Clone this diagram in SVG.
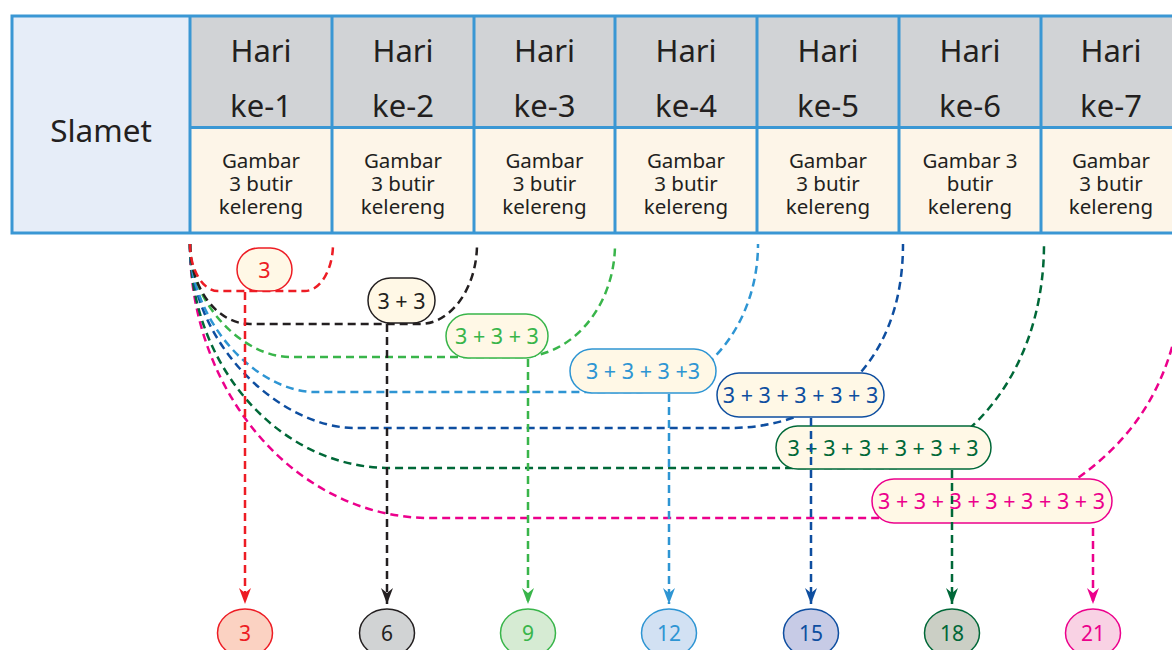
<svg xmlns="http://www.w3.org/2000/svg" width="1172" height="650" viewBox="0 0 1172 650">
<defs>
<style>
.t{font-family:"Noto Sans","Open Sans","Liberation Sans",sans-serif;fill:#231f20;text-anchor:middle}
.big{font-size:31px}
.sm{font-size:20.5px}
.pt{font-family:"Noto Sans","Open Sans","Liberation Sans",sans-serif;font-size:21.5px;text-anchor:middle}
.cl{fill:none;stroke:#3a97d4;stroke-width:3}
.d{fill:none;stroke-width:2.5;stroke-dasharray:8 5}
.pill{fill:#fff8e6;stroke-width:1.5}
.c{stroke-width:1.5}
</style>
<marker id="mr" markerUnits="userSpaceOnUse" markerWidth="17" markerHeight="14" viewBox="0 -7 17 14" refX="16" refY="0" orient="auto"><path d="M0,-6 L16,0 L0,6 L5,0 Z" fill="#ed1c24"/></marker>
<marker id="mk" markerUnits="userSpaceOnUse" markerWidth="17" markerHeight="14" viewBox="0 -7 17 14" refX="16" refY="0" orient="auto"><path d="M0,-6 L16,0 L0,6 L5,0 Z" fill="#231f20"/></marker>
<marker id="mg" markerUnits="userSpaceOnUse" markerWidth="17" markerHeight="14" viewBox="0 -7 17 14" refX="16" refY="0" orient="auto"><path d="M0,-6 L16,0 L0,6 L5,0 Z" fill="#39b54a"/></marker>
<marker id="mlb" markerUnits="userSpaceOnUse" markerWidth="17" markerHeight="14" viewBox="0 -7 17 14" refX="16" refY="0" orient="auto"><path d="M0,-6 L16,0 L0,6 L5,0 Z" fill="#2e95d3"/></marker>
<marker id="mdb" markerUnits="userSpaceOnUse" markerWidth="17" markerHeight="14" viewBox="0 -7 17 14" refX="16" refY="0" orient="auto"><path d="M0,-6 L16,0 L0,6 L5,0 Z" fill="#0e4ea0"/></marker>
<marker id="mdg" markerUnits="userSpaceOnUse" markerWidth="17" markerHeight="14" viewBox="0 -7 17 14" refX="16" refY="0" orient="auto"><path d="M0,-6 L16,0 L0,6 L5,0 Z" fill="#006838"/></marker>
<marker id="mm" markerUnits="userSpaceOnUse" markerWidth="17" markerHeight="14" viewBox="0 -7 17 14" refX="16" refY="0" orient="auto"><path d="M0,-6 L16,0 L0,6 L5,0 Z" fill="#ec008c"/></marker>
</defs>
<rect width="1172" height="650" fill="#ffffff"/>

<g id="table">
<rect x="12" y="16" width="178" height="217" fill="#e6edf8"/>
<rect x="190" y="16" width="1000" height="111.5" fill="#d1d3d6"/>
<rect x="190" y="127.5" width="1000" height="105.5" fill="#fdf5e8"/>
<rect class="cl" x="12" y="16" width="1180" height="217"/>
<path class="cl" d="M190 16V233 M332 16V233 M474 16V233 M615 16V233 M757 16V233 M899 16V233 M1041 16V233 M190 127.5H1192"/>
<text class="t big" x="101" y="142" style="font-size:31.5px">Slamet</text>
</g>

<g id="day1"><text class="t big" x="261" y="62">Hari</text><text class="t big" x="261" y="117">ke-1</text>
<text class="t sm" x="261" y="168">Gambar</text><text class="t sm" x="261" y="191">3 butir</text><text class="t sm" x="261" y="214">kelereng</text></g>
<g id="day2"><text class="t big" x="403" y="62">Hari</text><text class="t big" x="403" y="117">ke-2</text>
<text class="t sm" x="403" y="168">Gambar</text><text class="t sm" x="403" y="191">3 butir</text><text class="t sm" x="403" y="214">kelereng</text></g>
<g id="day3"><text class="t big" x="544.5" y="62">Hari</text><text class="t big" x="544.5" y="117">ke-3</text>
<text class="t sm" x="544.5" y="168">Gambar</text><text class="t sm" x="544.5" y="191">3 butir</text><text class="t sm" x="544.5" y="214">kelereng</text></g>
<g id="day4"><text class="t big" x="686" y="62">Hari</text><text class="t big" x="686" y="117">ke-4</text>
<text class="t sm" x="686" y="168">Gambar</text><text class="t sm" x="686" y="191">3 butir</text><text class="t sm" x="686" y="214">kelereng</text></g>
<g id="day5"><text class="t big" x="828" y="62">Hari</text><text class="t big" x="828" y="117">ke-5</text>
<text class="t sm" x="828" y="168">Gambar</text><text class="t sm" x="828" y="191">3 butir</text><text class="t sm" x="828" y="214">kelereng</text></g>
<g id="day6"><text class="t big" x="970" y="62">Hari</text><text class="t big" x="970" y="117">ke-6</text>
<text class="t sm" x="970" y="168">Gambar 3</text><text class="t sm" x="970" y="191">butir</text><text class="t sm" x="970" y="214">kelereng</text></g>
<g id="day7"><text class="t big" x="1111" y="62">Hari</text><text class="t big" x="1111" y="117">ke-7</text>
<text class="t sm" x="1111" y="168">Gambar</text><text class="t sm" x="1111" y="191">3 butir</text><text class="t sm" x="1111" y="214">kelereng</text></g>

<g id="connectors">
<path class="d" stroke="#ec008c" d="M190 244 C190 395 298 518 430 518 H880 M1185 244 C1185 370 1140 440 1060 490"/>
<path class="d" stroke="#006838" d="M190 244 C190 367 280 468 390 468 H900 C990 440 1044 350 1044 244"/>
<path class="d" stroke="#0e4ea0" d="M190 244 C190 345 281 428 355 428 H730 C820 428 903 370 903 244"/>
<path class="d" stroke="#2e95d3" d="M190 244 C190 325 259 392 315 392 H636 C703 392 758 325 758 244"/>
<path class="d" stroke="#39b54a" d="M190 244 C190 306 245 357 290 357 H520 C572 357 615 306 615 244"/>
<path class="d" stroke="#231f20" d="M190 244 C190 288 217 324 250 324 H420 C451 324 477 288 477 244"/>
<path class="d" stroke="#ed1c24" d="M190 244 C190 270 203 291 218 291 H305 C320 291 333 270 333 244"/>
</g>

<g id="sum1"><rect class="pill" stroke="#ed1c24" x="237" y="248" width="55" height="43" rx="21.5"/><text class="pt" fill="#ed1c24" x="264.5" y="277.5">3</text></g>
<g id="sum2"><rect class="pill" stroke="#231f20" x="368" y="278" width="67" height="45" rx="22.5"/><text class="pt" fill="#231f20" x="401.5" y="308.5">3 + 3</text></g>
<g id="sum3"><rect class="pill" stroke="#39b54a" x="446" y="314" width="102" height="44" rx="22"/><text class="pt" fill="#39b54a" x="497" y="344">3 + 3 + 3</text></g>
<g id="sum4"><rect class="pill" stroke="#2e95d3" x="570" y="349" width="146" height="44" rx="22"/><text class="pt" fill="#2e95d3" x="643" y="379">3 + 3 + 3 +3</text></g>
<g id="sum5"><rect class="pill" stroke="#0e4ea0" x="717" y="373" width="167" height="44" rx="22"/><text class="pt" fill="#0e4ea0" x="800.5" y="403">3 + 3 + 3 + 3 + 3</text></g>
<g id="sum6"><rect class="pill" stroke="#006838" x="776" y="426" width="215" height="43" rx="21.5"/><text class="pt" fill="#006838" x="883" y="455.5">3 + 3 + 3 + 3 + 3 + 3</text></g>
<g id="sum7"><rect class="pill" stroke="#ec008c" x="872" y="479" width="240" height="44" rx="22"/><text class="pt" fill="#ec008c" x="991.5" y="509">3 + 3 + 3 + 3 + 3 + 3 + 3</text></g>

<g id="arrows">
<path class="d" stroke="#ed1c24" d="M245 292 V604" marker-end="url(#mr)"/>
<path class="d" stroke="#231f20" d="M387 324 V604" marker-end="url(#mk)"/>
<path class="d" stroke="#39b54a" d="M528 359 V604" marker-end="url(#mg)"/>
<path class="d" stroke="#2e95d3" d="M669 394 V604" marker-end="url(#mlb)"/>
<path class="d" stroke="#0e4ea0" d="M811 418 V604" marker-end="url(#mdb)"/>
<path class="d" stroke="#006838" d="M952 470 V604" marker-end="url(#mdg)"/>
<path class="d" stroke="#ec008c" d="M1093 528 V604" marker-end="url(#mm)"/>
</g>

<g id="res3"><ellipse class="c" cx="245" cy="633" rx="27.5" ry="24" fill="#fbd2c2" stroke="#ed1c24"/><text class="pt" fill="#ed1c24" x="245" y="641" style="font-size:21px">3</text></g>
<g id="res6"><ellipse class="c" cx="387" cy="633" rx="27.5" ry="24" fill="#d1d3d4" stroke="#231f20"/><text class="pt" fill="#231f20" x="387" y="641" style="font-size:21px">6</text></g>
<g id="res9"><ellipse class="c" cx="528" cy="633" rx="27.5" ry="24" fill="#d6ebd3" stroke="#39b54a"/><text class="pt" fill="#39b54a" x="528" y="641" style="font-size:21px">9</text></g>
<g id="res12"><ellipse class="c" cx="669" cy="633" rx="27.5" ry="24" fill="#d2e1f3" stroke="#2e95d3"/><text class="pt" fill="#2e95d3" x="669" y="641" style="font-size:21px">12</text></g>
<g id="res15"><ellipse class="c" cx="811" cy="633" rx="27.5" ry="24" fill="#c7cbe6" stroke="#0e4ea0"/><text class="pt" fill="#0e4ea0" x="811" y="641" style="font-size:21px">15</text></g>
<g id="res18"><ellipse class="c" cx="952" cy="633" rx="27.5" ry="24" fill="#cbcfc5" stroke="#006838"/><text class="pt" fill="#006838" x="952" y="641" style="font-size:21px">18</text></g>
<g id="res21"><ellipse class="c" cx="1093" cy="633" rx="27.5" ry="24" fill="#f9d2e4" stroke="#ec008c"/><text class="pt" fill="#ec008c" x="1093" y="641" style="font-size:21px">21</text></g>
</svg>
